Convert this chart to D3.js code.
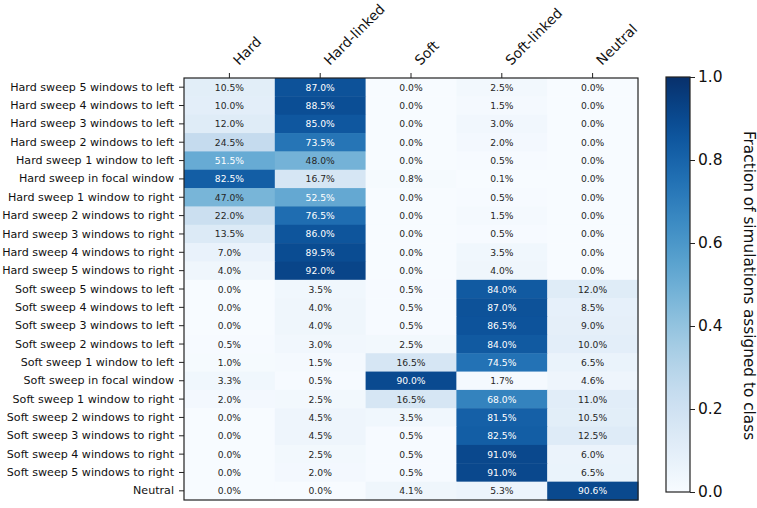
<!DOCTYPE html>
<html>
<head>
<meta charset="utf-8">
<script src="https://cdn.jsdelivr.net/npm/d3@7"></script>
<style>
  html, body { margin: 0; padding: 0; background: #fff; }
  svg { display: block; font-family: "DejaVu Sans", sans-serif; }
</style>
</head>
<body>
<svg id="chart" width="757" height="508"></svg>
<script>
const rowLabels = [
  "Hard sweep 5 windows to left", "Hard sweep 4 windows to left", "Hard sweep 3 windows to left",
  "Hard sweep 2 windows to left", "Hard sweep 1 window to left", "Hard sweep in focal window",
  "Hard sweep 1 window to right", "Hard sweep 2 windows to right", "Hard sweep 3 windows to right",
  "Hard sweep 4 windows to right", "Hard sweep 5 windows to right",
  "Soft sweep 5 windows to left", "Soft sweep 4 windows to left", "Soft sweep 3 windows to left",
  "Soft sweep 2 windows to left", "Soft sweep 1 window to left", "Soft sweep in focal window",
  "Soft sweep 1 window to right", "Soft sweep 2 windows to right", "Soft sweep 3 windows to right",
  "Soft sweep 4 windows to right", "Soft sweep 5 windows to right", "Neutral"
];
const colLabels = ["Hard", "Hard-linked", "Soft", "Soft-linked", "Neutral"];

const hardVals       = [10.5,10.0,12.0,24.5,51.5,82.5,47.0,22.0,13.5,7.0,4.0, 0.0,0.0,0.0,0.5,1.0,3.3,2.0,0.0,0.0,0.0,0.0, 0.0];
const hardLinkedVals = [87.0,88.5,85.0,73.5,48.0,16.7,52.5,76.5,86.0,89.5,92.0, 3.5,4.0,4.0,3.0,1.5,0.5,2.5,4.5,4.5,2.5,2.0, 0.0];
const softVals       = [0.0,0.0,0.0,0.0,0.0,0.8,0.0,0.0,0.0,0.0,0.0, 0.5,0.5,0.5,2.5,16.5,90.0,16.5,3.5,0.5,0.5,0.5, 4.1];
const softLinkedVals = [2.5,1.5,3.0,2.0,0.5,0.1,0.5,1.5,0.5,3.5,4.0, 84.0,87.0,86.5,84.0,74.5,1.7,68.0,81.5,82.5,91.0,91.0, 5.3];
const neutralVals    = [0.0,0.0,0.0,0.0,0.0,0.0,0.0,0.0,0.0,0.0,0.0, 12.0,8.5,9.0,10.0,6.5,4.6,11.0,10.5,12.5,6.0,6.5, 90.6];
const colorbarTicks  = [0.0, 0.2, 0.4, 0.6, 0.8, 1.0];
const colorbarTitle  = "Fraction of simulations assigned to class";

const seriesByCol = [hardVals, hardLinkedVals, softVals, softLinkedVals, neutralVals];
const cells = [];
rowLabels.forEach((r, i) => colLabels.forEach((c, j) => cells.push({row: r, col: c, v: seriesByCol[j][i]})));

const svg = d3.select("#chart");
const L = 184, R = 638, T = 78, B = 500;
const x = d3.scaleBand().domain(colLabels).range([L, R]);
const y = d3.scaleBand().domain(rowLabels).range([T, B]);
const color = d3.scaleSequential(d3.interpolateBlues).domain([0, 1]);

// cells
svg.append("g").selectAll("rect").data(cells).join("rect")
  .attr("x", d => x(d.col)).attr("y", d => y(d.row))
  .attr("width", x.bandwidth() + 0.5).attr("height", y.bandwidth() + 0.5)
  .attr("fill", d => color(d.v / 100));

svg.append("g").selectAll("text").data(cells).join("text")
  .attr("x", d => x(d.col) + x.bandwidth() / 2)
  .attr("y", d => y(d.row) + y.bandwidth() / 2)
  .attr("text-anchor", "middle").attr("dominant-baseline", "central")
  .attr("font-size", 9.2)
  .attr("fill", d => d.v > 50 ? "#ffffff" : "#262626")
  .text(d => d.v.toFixed(1) + "%");

// frame
svg.append("rect").attr("x", L).attr("y", T).attr("width", R - L).attr("height", B - T)
  .attr("fill", "none").attr("stroke", "#222").attr("stroke-width", 1.2);

// left axis
const gy = svg.append("g").attr("transform", `translate(${L},0)`)
  .call(d3.axisLeft(y).tickSize(5).tickPadding(5));
gy.select(".domain").remove();
gy.selectAll("line").attr("stroke", "#222");
gy.selectAll("text").attr("font-size", 11.1).attr("fill", "#111").attr("font-family", "DejaVu Sans");

// top axis
const gx = svg.append("g").attr("transform", `translate(0,${T})`)
  .call(d3.axisTop(x).tickSize(5));
gx.select(".domain").remove();
gx.selectAll("line").attr("stroke", "#222");
gx.selectAll("text")
  .attr("font-size", 13.8).attr("fill", "#111").attr("font-family", "DejaVu Sans")
  .attr("text-anchor", "start")
  .attr("x", 0).attr("y", 0).attr("dy", null)
  .attr("transform", "translate(9.5,-12) rotate(-45)");

// colorbar
const cbX = 666, cbW = 24, cbTop = 77, cbBot = 492;
const cbScale = d3.scaleLinear().domain([0, 1]).range([cbBot, cbTop]);
const defs = svg.append("defs");
const grad = defs.append("linearGradient").attr("id", "cbgrad")
  .attr("x1", "0").attr("y1", "1").attr("x2", "0").attr("y2", "0");
grad.selectAll("stop").data(d3.range(0, 1.0001, 0.05)).join("stop")
  .attr("offset", d => d).attr("stop-color", d => color(d));
svg.append("rect").attr("x", cbX).attr("y", cbTop).attr("width", cbW).attr("height", cbBot - cbTop)
  .attr("fill", "url(#cbgrad)").attr("stroke", "#222").attr("stroke-width", 1.2);
const gc = svg.append("g").attr("transform", `translate(${cbX + cbW},0)`)
  .call(d3.axisRight(cbScale).tickValues(colorbarTicks).tickFormat(d3.format(".1f")).tickSize(5).tickPadding(3));
gc.select(".domain").remove();
gc.selectAll("line").attr("stroke", "#222");
gc.selectAll("text").attr("font-size", 15.5).attr("fill", "#111").attr("font-family", "DejaVu Sans");

svg.append("text")
  .attr("transform", `translate(743.5,${(128 + 443) / 2}) rotate(90)`)
  .attr("text-anchor", "middle")
  .attr("font-size", 15.3).attr("fill", "#111")
  .text(colorbarTitle);
</script>
</body>
</html>
